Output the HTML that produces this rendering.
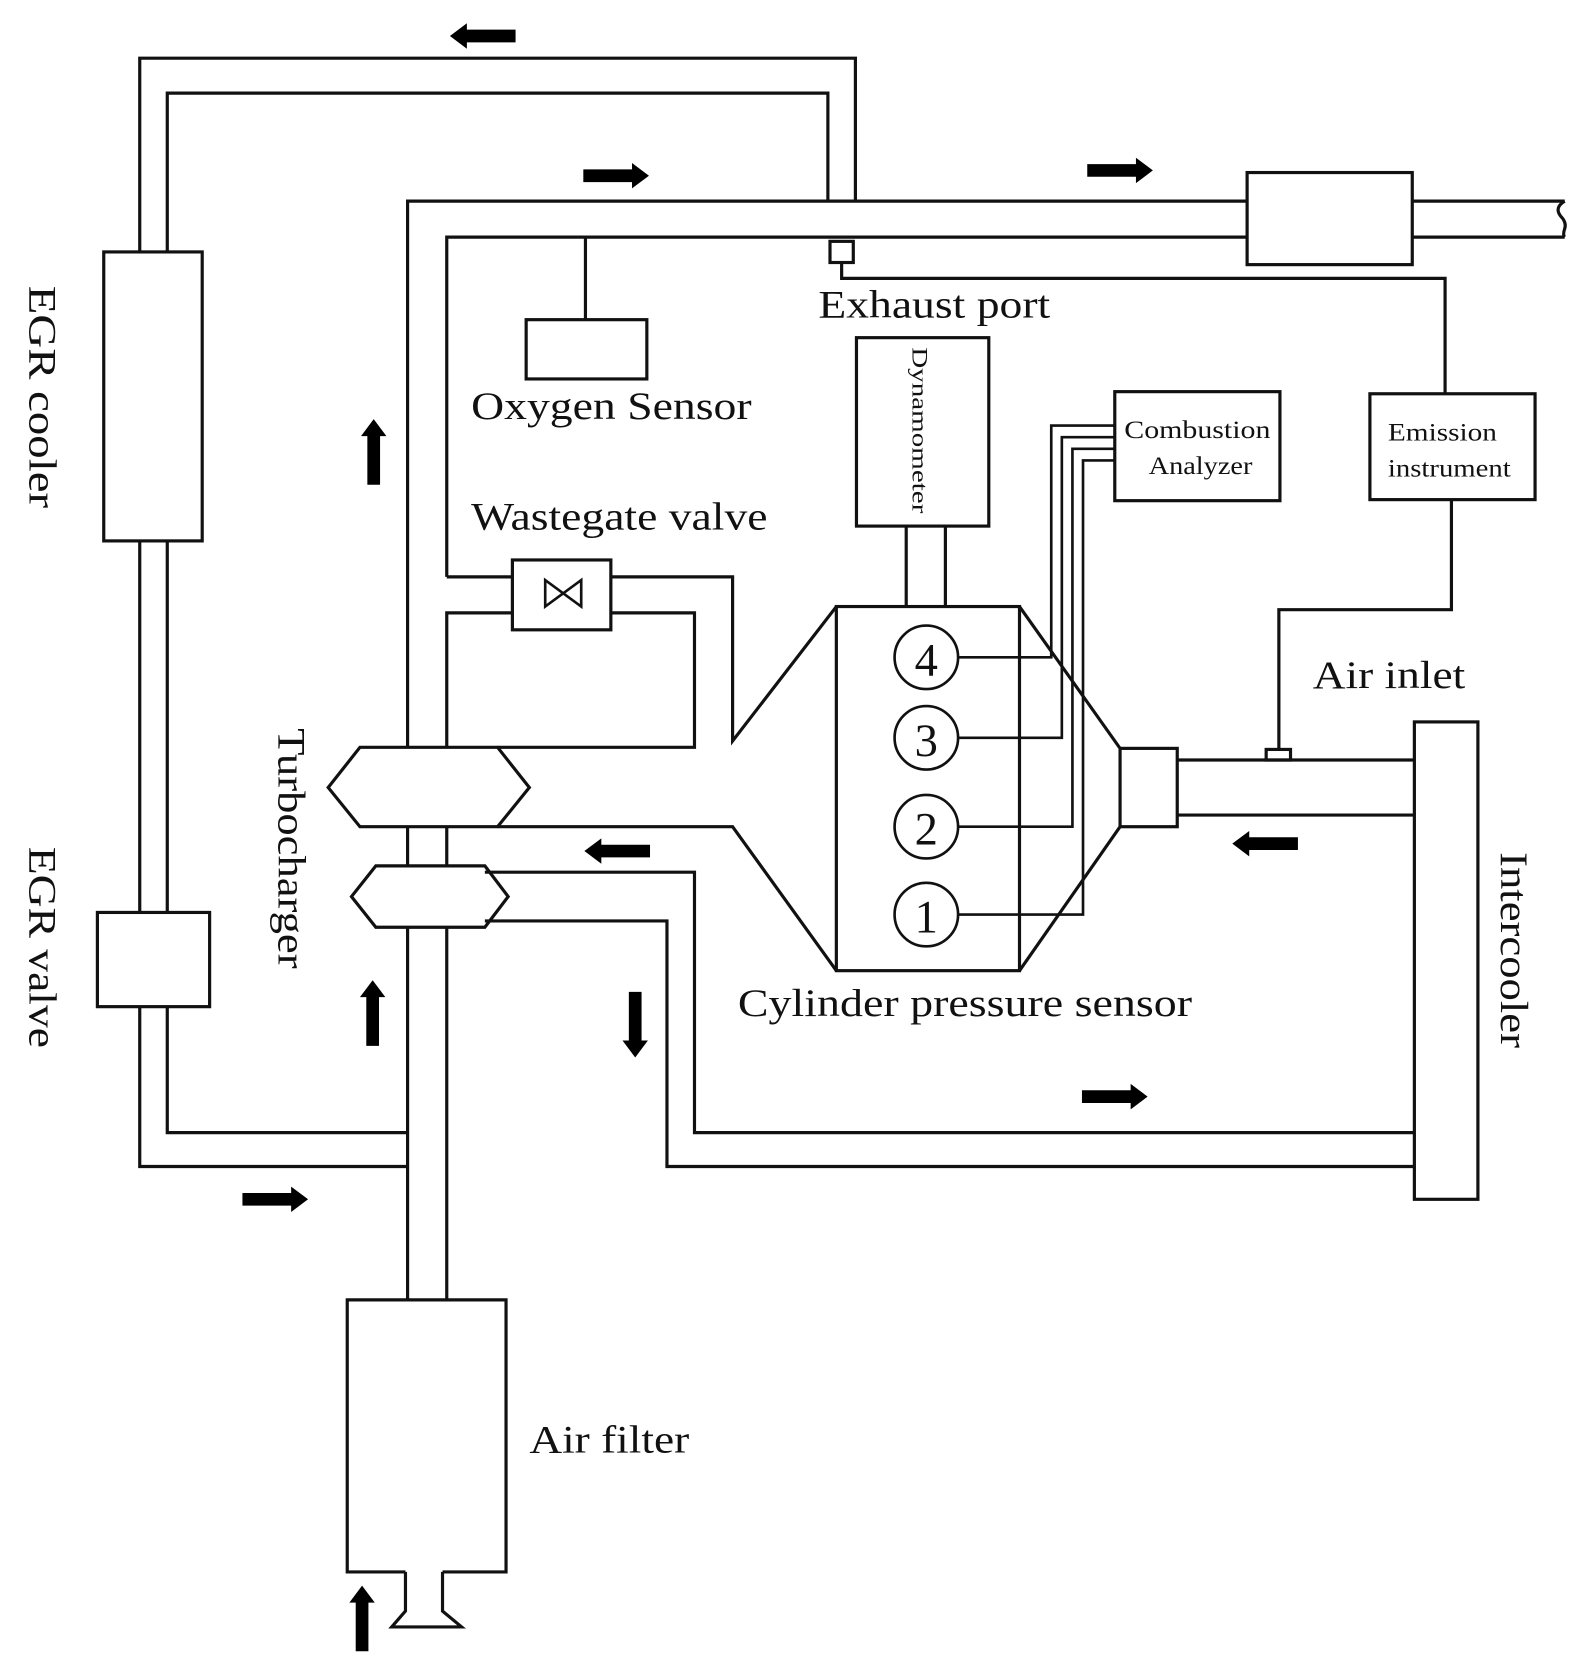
<!DOCTYPE html>
<html><head><meta charset="utf-8"><style>
html,body{margin:0;padding:0;background:#fff}
svg{display:block}
text{font-family:"Liberation Serif",serif;fill:#111}
</style></head><body>
<svg width="1588" height="1664" viewBox="0 0 1500 1572" preserveAspectRatio="none" xmlns="http://www.w3.org/2000/svg">
<g fill="none" stroke="#111" stroke-width="3" stroke-linejoin="miter">
<polyline points="385,1102 132,1102 132,55 808,55 808,190"/>
<polyline points="385,1070 158,1070 158,88 782,88 782,190"/>
<rect x="98" y="238" width="93" height="273" fill="#fff"/>
<rect x="92" y="862" width="106" height="89" fill="#fff"/>
<polyline points="385,706 385,190 1178,190"/>
<polyline points="422,545 422,224 1178,224"/>
<polyline points="1334,190 1478,190"/>
<polyline points="1334,224 1478,224"/>
<path d="M1478,190 q-10,6 -4,14 q6,6 4,12 q-2,6 0,8"/>
<rect x="1178" y="163" width="156" height="87"/>
<rect x="784" y="228" width="22" height="20"/>
<polyline points="795,248 795,263 1365,263 1365,372"/>
<line x1="553" y1="224" x2="553" y2="302"/>
<rect x="497" y="302" width="114" height="56"/>
<polyline points="422,545 484,545"/>
<polyline points="577,545 692,545 692,700 790,573"/>
<polyline points="422,706 422,579 484,579"/>
<polyline points="577,579 656,579 656,706 470,706"/>
<rect x="484" y="529" width="93" height="66"/>
<path d="M515,548 L515,573 L549,548 L549,573 Z" stroke-width="2.5"/>
<polygon points="310,744 340,706 470,706 500,744 470,781 340,781" fill="#fff"/>
<polyline points="470,781 692,781 790,917"/>
<line x1="385" y1="781" x2="385" y2="818"/>
<line x1="422" y1="781" x2="422" y2="818"/>
<line x1="385" y1="876" x2="385" y2="1228"/>
<line x1="422" y1="876" x2="422" y2="1228"/>
<polygon points="332,847 355,818 458,818 480,847 458,876 355,876" fill="#fff"/>
<polyline points="458,824 656,824 656,1070 1336,1070"/>
<polyline points="458,870 630,870 630,1102 1336,1102"/>
<rect x="790" y="573" width="173" height="344"/>
<polyline points="963,573 1058,707"/>
<polyline points="963,917 1058,781"/>
<rect x="1058" y="707" width="54" height="74"/>
<line x1="1112" y1="718" x2="1336" y2="718"/>
<line x1="1112" y1="770" x2="1336" y2="770"/>
<rect x="1196" y="708" width="23" height="10"/>
<polyline points="1208,708 1208,576 1371,576 1371,472"/>
<rect x="809" y="319" width="125" height="178"/>
<line x1="856" y1="497" x2="856" y2="573"/>
<line x1="893" y1="497" x2="893" y2="573"/>
<g stroke-width="2.5">
<circle cx="875" cy="621" r="30" fill="#fff"/>
<circle cx="875" cy="697" r="30" fill="#fff"/>
<circle cx="875" cy="781" r="30" fill="#fff"/>
<circle cx="875" cy="864" r="30" fill="#fff"/>
<polyline points="905,621 993,621 993,402 1053,402"/>
<polyline points="905,697 1003,697 1003,413 1053,413"/>
<polyline points="905,781 1013,781 1013,424 1053,424"/>
<polyline points="905,864 1023,864 1023,435 1053,435"/>
</g>
<rect x="1053" y="370" width="156" height="103" fill="#fff"/>
<rect x="1294" y="372" width="156" height="100" fill="#fff"/>
<rect x="1336" y="682" width="60" height="451" fill="#fff"/>
<polyline points="383,1485 328,1485 328,1228 478,1228 478,1485 418,1485"/>
<polyline points="383,1485 383,1522 370,1537 436,1537 418,1522 418,1485"/>
</g>
<g fill="#000">
<path d="M487,28 h-46 v-6 l-16,12 16,12 v-6 h46z"/>
<path d="M551,160 h46 v-6 l16,12 -16,12 v-6 h-46z"/>
<path d="M1027,155 h46 v-6 l16,12 -16,12 v-6 h-46z"/>
<path d="M347,458 v-46 h-6 l12,-16 12,16 h-6 v46z"/>
<path d="M346,988 v-46 h-6 l12,-16 12,16 h-6 v46z"/>
<path d="M594,937 v46 h-6 l12,16 12,-16 h-6 v-46z"/>
<path d="M614,798 h-46 v-6 l-16,12 16,12 v-6 h46z"/>
<path d="M1226,791 h-46 v-6 l-16,12 16,12 v-6 h46z"/>
<path d="M1022,1030 h46 v-6 l16,12 -16,12 v-6 h-46z"/>
<path d="M229,1127 h46 v-6 l16,12 -16,12 v-6 h-46z"/>
<path d="M336,1560 v-46 h-6 l12,-16 12,16 h-6 v46z"/>
</g>
<g font-size="37" lengthAdjust="spacingAndGlyphs">
<text x="773" y="300" textLength="219" lengthAdjust="spacingAndGlyphs">Exhaust port</text>
<text x="445" y="396" textLength="265" lengthAdjust="spacingAndGlyphs">Oxygen Sensor</text>
<text x="445" y="500" textLength="280" lengthAdjust="spacingAndGlyphs">Wastegate valve</text>
<text x="1240" y="650" textLength="144" lengthAdjust="spacingAndGlyphs">Air inlet</text>
<text x="697" y="960" textLength="429" lengthAdjust="spacingAndGlyphs">Cylinder pressure sensor</text>
<text x="500" y="1372" textLength="151" lengthAdjust="spacingAndGlyphs">Air filter</text>
<text transform="translate(28,270) rotate(90)" textLength="210" lengthAdjust="spacingAndGlyphs">EGR cooler</text>
<text transform="translate(28,800) rotate(90)" textLength="190" lengthAdjust="spacingAndGlyphs">EGR valve</text>
<text transform="translate(263,688) rotate(90)" textLength="227" lengthAdjust="spacingAndGlyphs">Turbocharger</text>
<text transform="translate(1418,805) rotate(90)" textLength="185" lengthAdjust="spacingAndGlyphs">Intercooler</text>
<text x="875" y="638" text-anchor="middle" font-size="44">4</text>
<text x="875" y="714" text-anchor="middle" font-size="44">3</text>
<text x="875" y="798" text-anchor="middle" font-size="44">2</text>
<text x="875" y="881" text-anchor="middle" font-size="44">1</text>
</g>
<g font-size="24">
<text x="1062" y="414" textLength="138" lengthAdjust="spacingAndGlyphs">Combustion</text>
<text x="1085" y="448" textLength="98" lengthAdjust="spacingAndGlyphs">Analyzer</text>
<text x="1311" y="416" textLength="103" lengthAdjust="spacingAndGlyphs">Emission</text>
<text x="1311" y="450" textLength="116" lengthAdjust="spacingAndGlyphs">instrument</text>
<text transform="translate(862,328) rotate(90)" font-size="21" textLength="157" lengthAdjust="spacingAndGlyphs">Dynamometer</text>
</g>
</svg>
</body></html>
